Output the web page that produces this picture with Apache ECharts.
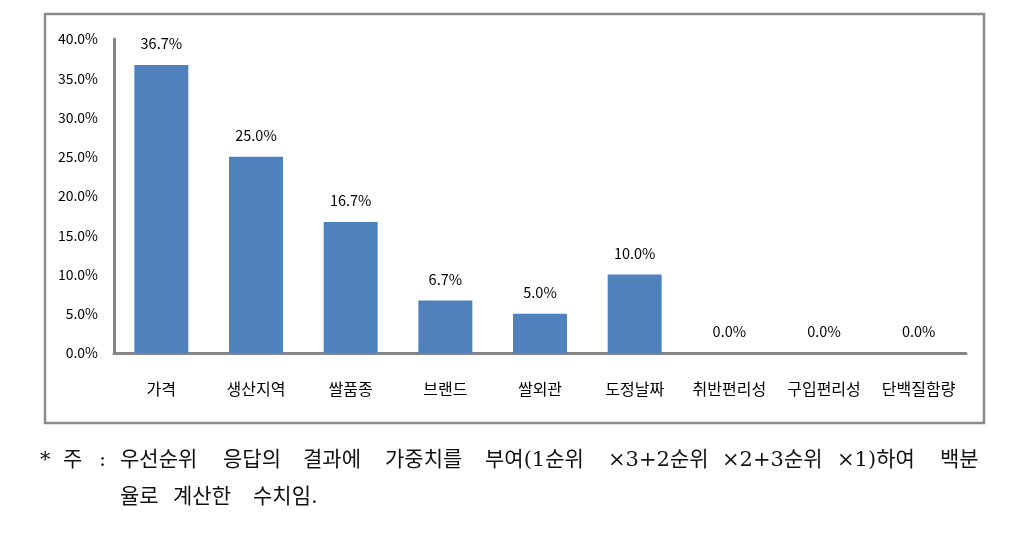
<!DOCTYPE html>
<html><head><meta charset="utf-8">
<script src="https://cdn.jsdelivr.net/npm/echarts@6/dist/echarts.min.js"></script>
<style>html,body{margin:0;padding:0;background:#fff}#c{width:1020px;height:553px}</style>
</head><body><div id="c"></div>
<script>
const categories = ['가격','생산지역','쌀품종','브랜드','쌀외관','도정날짜','취반편리성','구입편리성','단백질함량'];
const values = [36.7, 25.0, 16.7, 6.7, 5.0, 10.0, 0.0, 0.0, 0.0];
const yTicks = {min: 0, max: 40, interval: 5};
const noteLine1 = [['*',40],['주',63],[':',99],['우선순위',120],['응답의',223],['결과에',303],['가중치를',385],['부여(1순위',485],['×3+2순위',608],['×2+3순위',722],['×1)하여',837],['백분',940]];
const noteLine2 = [['율로',120],['계산한',173],['수치임.',253]];

const font = '"Noto Sans CJK KR", "Noto Sans", sans-serif';
const noteFont = '"DejaVu Serif", "Noto Sans CJK KR", serif';
const graphics = [{
  type:'rect', shape:{x:45,y:14,width:939,height:409},
  style:{fill:'none', stroke:'#8c8c8c', lineWidth:2.5}, silent:true
}];
noteLine1.forEach(([t,x])=>graphics.push({type:'text', left:x, top:450, style:{text:t, font:'21px '+noteFont, fill:'#111'}}));
noteLine2.forEach(([t,x])=>graphics.push({type:'text', left:x, top:487, style:{text:t, font:'21px '+noteFont, fill:'#111'}}));

const chart = echarts.init(document.getElementById('c'), null, {renderer:'canvas'});
chart.setOption({
  animation:false,
  grid:{left:114, right:54, top:39, bottom:200, containLabel:false},
  xAxis:{type:'category', data:categories,
    axisLine:{lineStyle:{color:'#868686', width:3}},
    axisTick:{show:false},
    axisLabel:{fontFamily:font, fontSize:16, color:'#000', margin:28, interval:0}},
  yAxis:{type:'value', min:yTicks.min, max:yTicks.max, interval:yTicks.interval,
    axisLine:{show:true, lineStyle:{color:'#868686', width:3}},
    axisTick:{show:false}, splitLine:{show:false},
    axisLabel:{fontFamily:font, fontSize:14, color:'#000', margin:16, formatter:v=>v.toFixed(1)+'%'}},
  series:[{type:'bar', data:values, barWidth:'57%',
    itemStyle:{color:'#4f81bd'},
    label:{show:true, position:'top', distance:14, fontFamily:font, fontSize:14.5, color:'#000',
      formatter:p=>p.value.toFixed(1)+'%'}}],
  graphic:graphics
});
</script></body></html>
